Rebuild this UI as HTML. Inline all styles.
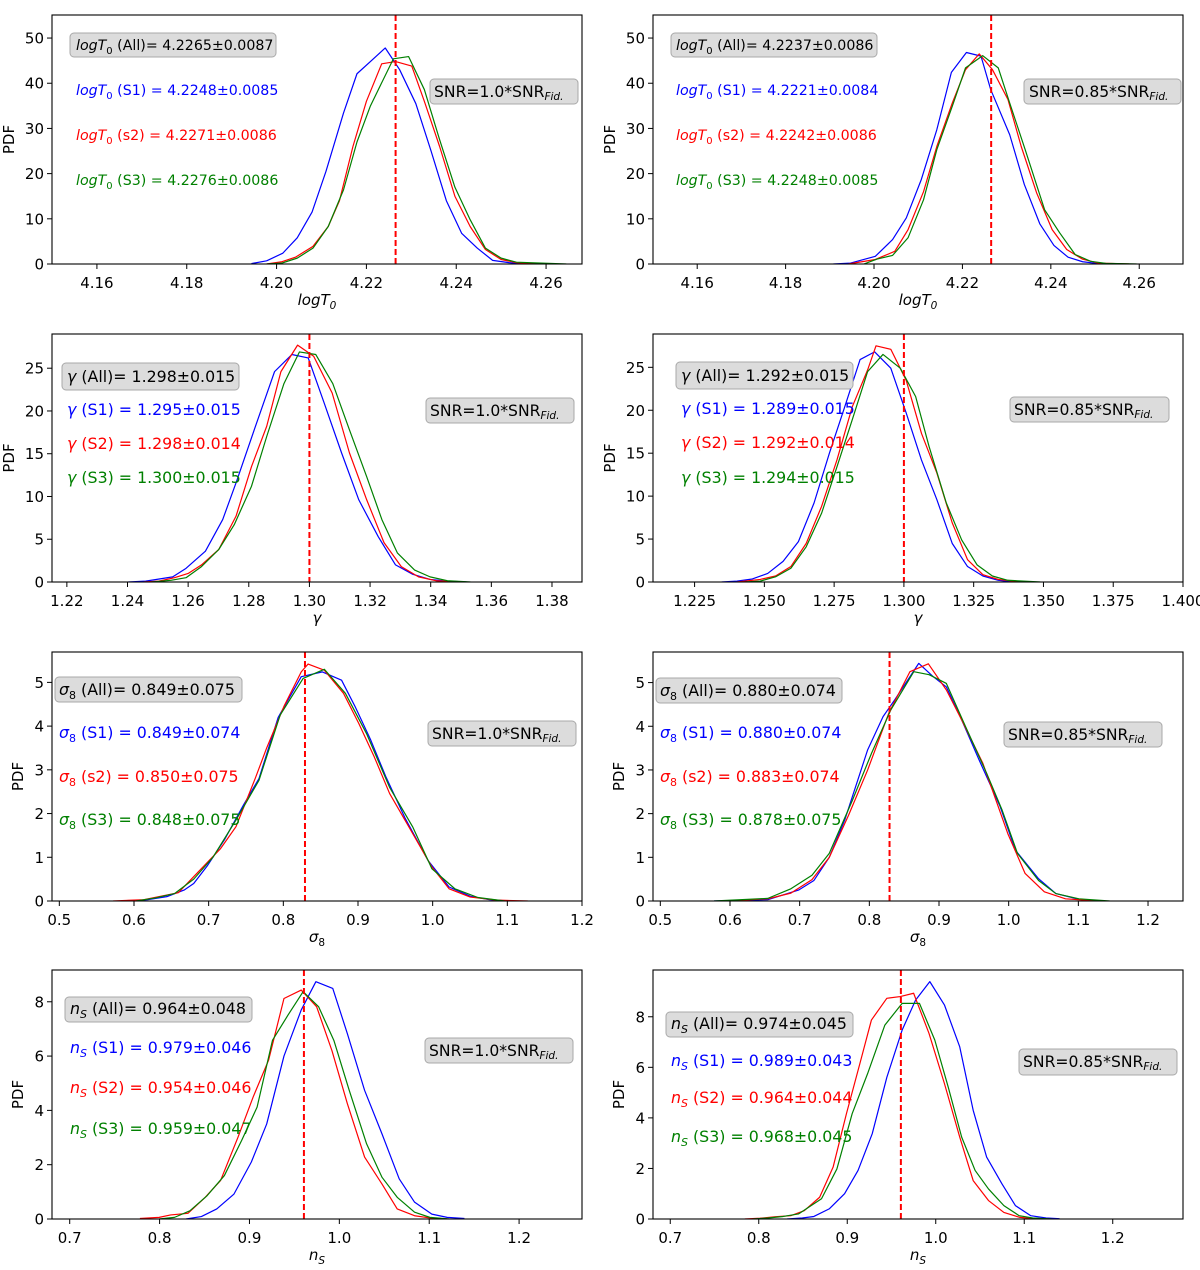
<!DOCTYPE html>
<html><head><meta charset="utf-8">
<style>
html,body{margin:0;padding:0;background:#fff;}
svg{display:block;font-family:"DejaVu Sans","Liberation Sans",sans-serif;}
</style></head>
<body>
<svg id="fig" width="1200" height="1270" viewBox="0 0 1200 1270" xmlns="http://www.w3.org/2000/svg">
<rect x="0" y="0" width="1200" height="1270" fill="#fff"/>
<g id="marks"></g>
<g id="annots">
<!-- Panel 1 -->
<g font-size="14.2">
<rect x="70" y="33" width="206" height="24" rx="4" fill="#dcdcdc" stroke="#a8a8a8"/>
<text x="76" y="50" fill="#000"><tspan font-style="italic">logT</tspan><tspan font-size="10" dy="4">0</tspan><tspan dy="-4"> (All)= 4.2265±0.0087</tspan></text>
<text x="76" y="95" fill="#0000ff"><tspan font-style="italic">logT</tspan><tspan font-size="10" dy="4">0</tspan><tspan dy="-4"> (S1) = 4.2248±0.0085</tspan></text>
<text x="76" y="140" fill="#ff0000"><tspan font-style="italic">logT</tspan><tspan font-size="10" dy="4">0</tspan><tspan dy="-4"> (s2) = 4.2271±0.0086</tspan></text>
<text x="76" y="185" fill="#008000"><tspan font-style="italic">logT</tspan><tspan font-size="10" dy="4">0</tspan><tspan dy="-4"> (S3) = 4.2276±0.0086</tspan></text>
<rect x="430" y="79" width="148" height="25" rx="4" fill="#dcdcdc" stroke="#a8a8a8"/>
<text x="434" y="97" font-size="15.6">SNR=1.0*SNR<tspan font-size="10.5" font-style="italic" dy="3">Fid.</tspan></text>
</g>
<!-- Panel 2 -->
<g font-size="14.2">
<rect x="671" y="33" width="206" height="24" rx="4" fill="#dcdcdc" stroke="#a8a8a8"/>
<text x="676" y="50" fill="#000"><tspan font-style="italic">logT</tspan><tspan font-size="10" dy="4">0</tspan><tspan dy="-4"> (All)= 4.2237±0.0086</tspan></text>
<text x="676" y="95" fill="#0000ff"><tspan font-style="italic">logT</tspan><tspan font-size="10" dy="4">0</tspan><tspan dy="-4"> (S1) = 4.2221±0.0084</tspan></text>
<text x="676" y="140" fill="#ff0000"><tspan font-style="italic">logT</tspan><tspan font-size="10" dy="4">0</tspan><tspan dy="-4"> (s2) = 4.2242±0.0086</tspan></text>
<text x="676" y="185" fill="#008000"><tspan font-style="italic">logT</tspan><tspan font-size="10" dy="4">0</tspan><tspan dy="-4"> (S3) = 4.2248±0.0085</tspan></text>
<rect x="1024" y="79" width="157" height="25" rx="4" fill="#dcdcdc" stroke="#a8a8a8"/>
<text x="1029" y="97" font-size="15.6">SNR=0.85*SNR<tspan font-size="10.5" font-style="italic" dy="3">Fid.</tspan></text>
</g>
<!-- Panel 3 -->
<g font-size="15.8">
<rect x="62" y="363" width="177" height="27" rx="4" fill="#dcdcdc" stroke="#a8a8a8"/>
<text x="67" y="382" fill="#000"><tspan font-style="italic">γ</tspan> (All)= 1.298±0.015</text>
<text x="67" y="415" fill="#0000ff"><tspan font-style="italic">γ</tspan> (S1) = 1.295±0.015</text>
<text x="67" y="449" fill="#ff0000"><tspan font-style="italic">γ</tspan> (S2) = 1.298±0.014</text>
<text x="67" y="483" fill="#008000"><tspan font-style="italic">γ</tspan> (S3) = 1.300±0.015</text>
<rect x="426" y="398" width="148" height="25" rx="4" fill="#dcdcdc" stroke="#a8a8a8"/>
<text x="430" y="416" font-size="15.6">SNR=1.0*SNR<tspan font-size="10.5" font-style="italic" dy="3">Fid.</tspan></text>
</g>
<!-- Panel 4 -->
<g font-size="15.8">
<rect x="676" y="362" width="177" height="27" rx="4" fill="#dcdcdc" stroke="#a8a8a8"/>
<text x="681" y="381" fill="#000"><tspan font-style="italic">γ</tspan> (All)= 1.292±0.015</text>
<text x="681" y="414" fill="#0000ff"><tspan font-style="italic">γ</tspan> (S1) = 1.289±0.015</text>
<text x="681" y="448" fill="#ff0000"><tspan font-style="italic">γ</tspan> (S2) = 1.292±0.014</text>
<text x="681" y="483" fill="#008000"><tspan font-style="italic">γ</tspan> (S3) = 1.294±0.015</text>
<rect x="1010" y="397" width="159" height="25" rx="4" fill="#dcdcdc" stroke="#a8a8a8"/>
<text x="1014" y="415" font-size="15.6">SNR=0.85*SNR<tspan font-size="10.5" font-style="italic" dy="3">Fid.</tspan></text>
</g>
<!-- Panel 5 -->
<g font-size="15.8">
<rect x="55" y="677" width="187" height="25" rx="4" fill="#dcdcdc" stroke="#a8a8a8"/>
<text x="59" y="695" fill="#000"><tspan font-style="italic">σ</tspan><tspan font-size="11" dy="4">8</tspan><tspan dy="-4"> (All)= 0.849±0.075</tspan></text>
<text x="59" y="738" fill="#0000ff"><tspan font-style="italic">σ</tspan><tspan font-size="11" dy="4">8</tspan><tspan dy="-4"> (S1) = 0.849±0.074</tspan></text>
<text x="59" y="782" fill="#ff0000"><tspan font-style="italic">σ</tspan><tspan font-size="11" dy="4">8</tspan><tspan dy="-4"> (s2) = 0.850±0.075</tspan></text>
<text x="59" y="825" fill="#008000"><tspan font-style="italic">σ</tspan><tspan font-size="11" dy="4">8</tspan><tspan dy="-4"> (S3) = 0.848±0.075</tspan></text>
<rect x="428" y="721" width="148" height="25" rx="4" fill="#dcdcdc" stroke="#a8a8a8"/>
<text x="432" y="739" font-size="15.6">SNR=1.0*SNR<tspan font-size="10.5" font-style="italic" dy="3">Fid.</tspan></text>
</g>
<!-- Panel 6 -->
<g font-size="15.8">
<rect x="656" y="678" width="186" height="25" rx="4" fill="#dcdcdc" stroke="#a8a8a8"/>
<text x="660" y="696" fill="#000"><tspan font-style="italic">σ</tspan><tspan font-size="11" dy="4">8</tspan><tspan dy="-4"> (All)= 0.880±0.074</tspan></text>
<text x="660" y="738" fill="#0000ff"><tspan font-style="italic">σ</tspan><tspan font-size="11" dy="4">8</tspan><tspan dy="-4"> (S1) = 0.880±0.074</tspan></text>
<text x="660" y="782" fill="#ff0000"><tspan font-style="italic">σ</tspan><tspan font-size="11" dy="4">8</tspan><tspan dy="-4"> (s2) = 0.883±0.074</tspan></text>
<text x="660" y="825" fill="#008000"><tspan font-style="italic">σ</tspan><tspan font-size="11" dy="4">8</tspan><tspan dy="-4"> (S3) = 0.878±0.075</tspan></text>
<rect x="1004" y="722" width="158" height="25" rx="4" fill="#dcdcdc" stroke="#a8a8a8"/>
<text x="1008" y="740" font-size="15.6">SNR=0.85*SNR<tspan font-size="10.5" font-style="italic" dy="3">Fid.</tspan></text>
</g>
<!-- Panel 7 -->
<g font-size="15.8">
<rect x="65" y="997" width="187" height="25" rx="4" fill="#dcdcdc" stroke="#a8a8a8"/>
<text x="70" y="1014" fill="#000"><tspan font-style="italic">n</tspan><tspan font-size="11" font-style="italic" dy="4">S</tspan><tspan dy="-4"> (All)= 0.964±0.048</tspan></text>
<text x="70" y="1053" fill="#0000ff"><tspan font-style="italic">n</tspan><tspan font-size="11" font-style="italic" dy="4">S</tspan><tspan dy="-4"> (S1) = 0.979±0.046</tspan></text>
<text x="70" y="1093" fill="#ff0000"><tspan font-style="italic">n</tspan><tspan font-size="11" font-style="italic" dy="4">S</tspan><tspan dy="-4"> (S2) = 0.954±0.046</tspan></text>
<text x="70" y="1134" fill="#008000"><tspan font-style="italic">n</tspan><tspan font-size="11" font-style="italic" dy="4">S</tspan><tspan dy="-4"> (S3) = 0.959±0.047</tspan></text>
<rect x="425" y="1038" width="148" height="25" rx="4" fill="#dcdcdc" stroke="#a8a8a8"/>
<text x="429" y="1056" font-size="15.6">SNR=1.0*SNR<tspan font-size="10.5" font-style="italic" dy="3">Fid.</tspan></text>
</g>
<!-- Panel 8 -->
<g font-size="15.8">
<rect x="666" y="1012" width="187" height="25" rx="4" fill="#dcdcdc" stroke="#a8a8a8"/>
<text x="671" y="1029" fill="#000"><tspan font-style="italic">n</tspan><tspan font-size="11" font-style="italic" dy="4">S</tspan><tspan dy="-4"> (All)= 0.974±0.045</tspan></text>
<text x="671" y="1066" fill="#0000ff"><tspan font-style="italic">n</tspan><tspan font-size="11" font-style="italic" dy="4">S</tspan><tspan dy="-4"> (S1) = 0.989±0.043</tspan></text>
<text x="671" y="1103" fill="#ff0000"><tspan font-style="italic">n</tspan><tspan font-size="11" font-style="italic" dy="4">S</tspan><tspan dy="-4"> (S2) = 0.964±0.044</tspan></text>
<text x="671" y="1142" fill="#008000"><tspan font-style="italic">n</tspan><tspan font-size="11" font-style="italic" dy="4">S</tspan><tspan dy="-4"> (S3) = 0.968±0.045</tspan></text>
<rect x="1019" y="1049" width="158" height="26" rx="4" fill="#dcdcdc" stroke="#a8a8a8"/>
<text x="1023" y="1067" font-size="15.6">SNR=0.85*SNR<tspan font-size="10.5" font-style="italic" dy="3">Fid.</tspan></text>
</g>
</g>
</svg>
<script>
// ---------- DATA ----------
// Panel 1: logT0, SNR=1.0
const p1b_x=[4.1944,4.1978,4.2014,4.2046,4.2079,4.2110,4.2149,4.2179,4.2211,4.2242,4.2274,4.2310,4.2344,4.2378,4.2412,4.2447,4.2481,4.2517,4.2551];
const p1b_y=[0.1,0.7,2.4,5.8,11.5,20.5,33.4,42.1,45,47.8,43,35.5,25,14,6.8,3.5,0.8,0.3,0];
const p1r_x=[4.1978,4.2012,4.2042,4.2081,4.2115,4.2140,4.2170,4.2200,4.2234,4.2265,4.2301,4.2329,4.2363,4.2397,4.2431,4.2465,4.2500,4.2534,4.2594];
const p1r_y=[0,0.5,1.5,3.9,8.3,14,26,36,44.3,44.8,43.8,36,26,15,8.3,3.2,1,0.3,0];
const p1g_x=[4.1978,4.2012,4.2046,4.2081,4.2115,4.2149,4.2179,4.2209,4.2260,4.2294,4.2329,4.2363,4.2397,4.2431,4.2465,4.2500,4.2534,4.2645];
const p1g_y=[0,0.2,1.3,3.5,8.3,16.4,27,35,45.4,45.9,38.6,27.5,17,9.8,3.5,1.3,0.4,0];
// Panel 2: logT0, SNR=0.85
const p2b_x=[4.1908,4.1947,4.2003,4.2042,4.2073,4.2107,4.2142,4.2175,4.2209,4.2242,4.2264,4.2307,4.2340,4.2375,4.2407,4.2439,4.2472,4.2507,4.2542];
const p2b_y=[0,0.2,1.7,5.4,10.2,18.7,29.7,42.4,46.8,46,38.6,28.6,17.6,8.9,4.1,1.5,0.5,0.1,0];
const p2r_x=[4.1942,4.2003,4.2047,4.2077,4.2112,4.2142,4.2177,4.2207,4.2238,4.2268,4.2303,4.2333,4.2368,4.2403,4.2436,4.2471,4.2507,4.2577];
const p2r_y=[0,1,2.8,7.6,16,26,35.6,43,46.5,43,36.4,26,15.7,7.6,3.2,1.1,0.2,0];
const p2g_x=[4.1977,4.2007,4.2042,4.2077,4.2112,4.2142,4.2177,4.2207,4.2246,4.2281,4.2307,4.2342,4.2386,4.2420,4.2455,4.2490,4.2524,4.2594];
const p2g_y=[0,1.1,1.9,5.8,14.2,25.3,34.9,43.4,46.1,43.4,35.6,25.3,12,6.9,2.1,0.6,0.15,0];
// Panel 3: gamma, SNR=1.0
const p3b_x=[1.2403,1.2460,1.2549,1.2593,1.2657,1.2714,1.2758,1.2820,1.2885,1.2942,1.2996,1.3049,1.3106,1.3163,1.3227,1.3284,1.3341,1.3398,1.3455,1.3518];
const p3b_y=[0,0.1,0.6,1.6,3.6,7.3,11.6,18,24.6,26.6,26.2,20.9,15.1,9.6,5.3,2,0.9,0.3,0.1,0];
const p3r_x=[1.2454,1.2504,1.2555,1.2600,1.2644,1.2701,1.2758,1.2809,1.2859,1.2906,1.2961,1.3014,1.3075,1.3132,1.3189,1.3246,1.3303,1.3360,1.3417,1.3493];
const p3r_y=[0,0.1,0.5,1,2,3.8,7.7,13.5,18.2,24.6,27.7,26.4,22.1,15.1,9.6,4.6,1.8,0.6,0.15,0];
const p3g_x=[1.2479,1.2543,1.2593,1.2644,1.2701,1.2752,1.2809,1.2859,1.2916,1.2967,1.3021,1.3077,1.3132,1.3189,1.3239,1.3290,1.3347,1.3398,1.3455,1.3531];
const p3g_y=[0,0.2,0.5,1.8,3.8,6.7,11.2,17,23.2,26.9,26.6,23.2,17.8,12.3,7.3,3.4,1.4,0.6,0.15,0];
// Panel 4: gamma, SNR=0.85
const p4b_x=[1.2347,1.2402,1.2457,1.2512,1.2567,1.2622,1.2678,1.2733,1.2788,1.2843,1.2895,1.2953,1.3008,1.3063,1.3118,1.3173,1.3228,1.3283,1.3338,1.3393];
const p4b_y=[0,0.1,0.35,1,2.4,4.7,9.2,15,20.4,25.9,26.8,24.9,19.7,14.2,9.6,4.5,1.8,0.7,0.2,0];
const p4r_x=[1.2402,1.2485,1.2540,1.2595,1.2650,1.2705,1.2760,1.2815,1.2870,1.2900,1.2953,1.3008,1.3063,1.3118,1.3173,1.3228,1.3283,1.3338,1.3421];
const p4r_y=[0,0.3,0.7,1.8,4.5,8.8,14.2,20.4,24.7,27.5,27.1,23.5,17.3,12.7,6.9,2.6,0.85,0.3,0];
const p4g_x=[1.2430,1.2485,1.2540,1.2595,1.2650,1.2705,1.2760,1.2815,1.2870,1.2925,1.2987,1.3042,1.3090,1.3152,1.3207,1.3262,1.3317,1.3372,1.3489];
const p4g_y=[0,0.1,0.6,1.6,4.1,8,13.4,18.9,24.5,26.5,24.9,21.6,15.8,9.2,4.9,2,0.7,0.2,0];
// Panel 5: sigma8, SNR=1.0
const p5b_x=[0.5925,0.6183,0.6440,0.6671,0.6800,0.6980,0.7211,0.7468,0.7674,0.7931,0.8240,0.8523,0.8780,0.8960,0.9166,0.9371,0.9629,0.9937,1.0220,1.0503,1.0760,1.1017];
const p5b_y=[0,0.03,0.1,0.25,0.4,0.8,1.4,2.2,2.8,4.2,5.13,5.24,5.05,4.45,3.7,2.85,1.9,0.93,0.32,0.11,0.03,0];
const p5r_x=[0.5720,0.6131,0.6337,0.6594,0.7160,0.7366,0.7623,0.7777,0.8008,0.8240,0.8332,0.8548,0.8806,0.9011,0.9217,0.9423,0.9680,0.9989,1.0220,1.0503,1.0863,1.1274];
const p5r_y=[0,0.03,0.1,0.19,1.2,1.7,2.8,3.5,4.45,5.24,5.42,5.28,4.75,4.06,3.3,2.46,1.7,0.78,0.28,0.09,0.02,0];
const p5g_x=[0.6028,0.6285,0.6543,0.6800,0.7057,0.7366,0.7674,0.7957,0.8265,0.8549,0.8831,0.9114,0.9423,0.9731,0.9989,1.0297,1.0606,1.0966];
const p5g_y=[0,0.07,0.17,0.5,1,1.85,2.76,4.25,5.09,5.3,4.75,3.83,2.6,1.7,0.74,0.28,0.08,0];
// Panel 6: sigma8, SNR=0.85
const p6b_x=[0.5771,0.6543,0.6984,0.7205,0.7425,0.7646,0.7976,0.8197,0.8362,0.8709,0.8913,0.9106,0.9327,0.9575,0.9878,1.0098,1.0429,1.0677,1.1008,1.1283];
const p6b_y=[0,0.03,0.25,0.47,1.0,1.85,3.46,4.22,4.6,5.44,5.14,4.9,4.14,3.23,2.16,1.16,0.51,0.17,0.04,0];
const p6r_x=[0.5937,0.6543,0.6874,0.7177,0.7425,0.7701,0.7976,0.8279,0.8583,0.8847,0.9106,0.9327,0.9630,0.9988,1.0236,1.0512,1.0815,1.1283];
const p6r_y=[0,0.05,0.18,0.49,1.0,1.96,3.0,4.3,5.25,5.43,4.83,4.14,3.15,1.54,0.63,0.21,0.05,0];
const p6g_x=[0.5771,0.6543,0.6874,0.7177,0.7425,0.7756,0.8031,0.8307,0.8638,0.8858,0.9106,0.9382,0.9685,0.9906,1.0126,1.0429,1.0677,1.1008,1.1449];
const p6g_y=[0,0.06,0.28,0.59,1.09,2.3,3.38,4.37,5.25,5.18,4.98,3.99,2.92,2.08,1.09,0.47,0.17,0.05,0];
// Panel 7: nS, SNR=1.0
const p7b_x=[0.8294,0.8465,0.8636,0.8828,0.9021,0.9192,0.9384,0.9576,0.9739,0.9927,1.0089,1.0281,1.0474,1.0666,1.0837,1.1029,1.1200,1.1392];
const p7b_y=[0,0.09,0.37,0.92,2.1,3.5,6,7.7,8.74,8.49,6.83,4.74,3.14,1.48,0.62,0.18,0.06,0.02];
const p7r_x=[0.7781,0.7995,0.8123,0.8316,0.8508,0.8679,0.8871,0.9042,0.9213,0.9384,0.9576,0.9747,0.9918,1.0089,1.0281,1.0474,1.0644,1.0837,1.1008,1.1200];
const p7r_y=[0.02,0.06,0.15,0.21,0.8,1.42,3.0,4.5,5.85,8.12,8.43,7.82,6.2,4.25,2.28,1.29,0.37,0.12,0.04,0];
const p7g_x=[0.7995,0.8166,0.8337,0.8529,0.8721,0.8914,0.9085,0.9256,0.9427,0.9597,0.9769,0.9939,1.0110,1.0303,1.0474,1.0644,1.0837,1.1008,1.1221];
const p7g_y=[0,0.06,0.3,0.86,1.6,2.9,4.12,6.58,7.5,8.37,7.82,6.58,4.74,2.77,1.54,0.8,0.25,0.06,0];
// Panel 8: nS, SNR=0.85
const p8b_x=[0.8319,0.8492,0.8623,0.8796,0.8970,0.9122,0.9282,0.9447,0.9620,0.9772,0.9933,1.0098,1.0271,1.0423,1.0575,1.0748,1.0900,1.1074,1.1247,1.1399];
const p8b_y=[0,0.04,0.1,0.4,1,1.92,3.37,5.6,7.47,8.66,9.39,8.47,6.81,4.3,2.45,1.39,0.53,0.13,0.04,0.01];
const p8r_x=[0.7842,0.8015,0.8189,0.8362,0.8514,0.8688,0.8840,0.8991,0.9143,0.9273,0.9447,0.9599,0.9750,0.9924,1.0098,1.0271,1.0423,1.0596,1.0770,1.0943,1.1139];
const p8r_y=[0,0.03,0.09,0.13,0.33,0.86,2.05,4.17,6.15,7.87,8.73,8.8,8.93,7.34,5.36,3.24,1.52,0.73,0.26,0.07,0];
const p8g_x=[0.7929,0.8102,0.8276,0.8449,0.8536,0.8709,0.8883,0.9056,0.9230,0.9425,0.9620,0.9816,0.9989,1.0141,1.0293,1.0445,1.0596,1.0770,1.0943,1.1095,1.1312];
const p8g_y=[0,0.04,0.1,0.2,0.4,0.8,1.98,4.17,5.75,7.67,8.53,8.53,7.08,5.22,3.24,1.92,1.19,0.53,0.13,0.04,0];
// Fiducial values (dashed lines)
const fiducials=[4.2265,4.2265,1.30,1.30,0.829,0.829,0.9606,0.9606];
// Tick labels
const xt_logT=["4.16","4.18","4.20","4.22","4.24","4.26"];
const yt_logT=["0","10","20","30","40","50"];
const xt_gamL=["1.22","1.24","1.26","1.28","1.30","1.32","1.34","1.36","1.38"];
const xt_gamR=["1.225","1.250","1.275","1.300","1.325","1.350","1.375","1.400"];
const yt_gam=["0","5","10","15","20","25"];
const xt_sig=["0.5","0.6","0.7","0.8","0.9","1.0","1.1","1.2"];
const yt_sig=["0","1","2","3","4","5"];
const xt_ns=["0.7","0.8","0.9","1.0","1.1","1.2"];
const yt_ns=["0","2","4","6","8"];

// ---------- LAYOUT ----------
const NS="http://www.w3.org/2000/svg";
const marks=document.getElementById('marks');
const COLS=[[52,582],[653,1183]];
const ROWS=[[15,264],[334,582],[652,901],[970,1219]];
const panels=[
 {c:0,r:0,xr:[4.15,4.268],yr:[0,55.1],xt:xt_logT,yt:yt_logT,xl:'logT',sub:'0',name:'logT0-snr1',s:[[p1b_x,p1b_y],[p1r_x,p1r_y],[p1g_x,p1g_y]],pdf:8},
 {c:1,r:0,xr:[4.15,4.2699],yr:[0,55.1],xt:xt_logT,yt:yt_logT,xl:'logT',sub:'0',name:'logT0-snr085',s:[[p2b_x,p2b_y],[p2r_x,p2r_y],[p2g_x,p2g_y]],pdf:8},
 {c:0,r:1,xr:[1.2151,1.3899],yr:[0,29.0],xt:xt_gamL,yt:yt_gam,xl:'γ',sub:'',name:'gamma-snr1',s:[[p3b_x,p3b_y],[p3r_x,p3r_y],[p3g_x,p3g_y]],pdf:8},
 {c:1,r:1,xr:[1.2101,1.4],yr:[0,28.88],xt:xt_gamR,yt:yt_gam,xl:'γ',sub:'',name:'gamma-snr085',s:[[p4b_x,p4b_y],[p4r_x,p4r_y],[p4g_x,p4g_y]],pdf:8},
 {c:0,r:2,xr:[0.4902,1.2],yr:[0,5.695],xt:xt_sig,yt:yt_sig,xl:'σ',sub:'8',subUp:true,name:'sigma8-snr1',s:[[p5b_x,p5b_y],[p5r_x,p5r_y],[p5g_x,p5g_y]],pdf:17},
 {c:1,r:2,xr:[0.4895,1.2502],yr:[0,5.70],xt:xt_sig,yt:yt_sig,xl:'σ',sub:'8',subUp:true,name:'sigma8-snr085',s:[[p6b_x,p6b_y],[p6r_x,p6r_y],[p6g_x,p6g_y]],pdf:17},
 {c:0,r:3,xr:[0.6803,1.270],yr:[0,9.17],xt:xt_ns,yt:yt_ns,xl:'n',sub:'S',name:'ns-snr1',s:[[p7b_x,p7b_y],[p7r_x,p7r_y],[p7g_x,p7g_y]],pdf:17},
 {c:1,r:3,xr:[0.6805,1.2794],yr:[0,9.85],xt:xt_ns,yt:yt_ns,xl:'n',sub:'S',name:'ns-snr085',s:[[p8b_x,p8b_y],[p8r_x,p8r_y],[p8g_x,p8g_y]],pdf:17}
];
const SCOL=['#0000ff','#ff0000','#008000'];
const SNAME=['s1','s2','s3'];

function mk(tag,attrs,parent){const e=document.createElementNS(NS,tag);for(const k in attrs)e.setAttribute(k,attrs[k]);(parent||marks).appendChild(e);return e;}

panels.forEach((p,i)=>{
  const x0=COLS[p.c][0],x1=COLS[p.c][1],y0=ROWS[p.r][0],y1=ROWS[p.r][1];
  const sx=v=>x0+(v-p.xr[0])/(p.xr[1]-p.xr[0])*(x1-x0);
  const sy=v=>y1-(v-p.yr[0])/(p.yr[1]-p.yr[0])*(y1-y0);
  const g=mk('g',{});
  
  
  const cp=mk('clipPath',{id:'clip'+i},g);
  mk('rect',{x:x0,y:y0,width:x1-x0,height:y1-y0},cp);
  p.s.forEach((ser,k)=>{
    const pts=ser[0].map((xv,j)=>sx(xv).toFixed(2)+','+sy(ser[1][j]).toFixed(2)).join(' ');
    const pl=mk('polyline',{points:pts,fill:'none',stroke:SCOL[k],'stroke-width':1.2,'stroke-linejoin':'round','clip-path':'url(#clip'+i+')'},g);
    
    
  });
  const fx=sx(fiducials[i]);
  const fl=mk('line',{x1:fx,x2:fx,y1:y0,y2:y1,stroke:'#ff0000','stroke-width':2,'stroke-dasharray':'6,3'},g);
  
  
  const fr=mk('rect',{x:x0,y:y0,width:x1-x0,height:y1-y0,fill:'none',stroke:'#000','stroke-width':1.1},g);
  
  
  p.xt.forEach(t=>{
    const v=parseFloat(t);const x=sx(v);
    const tl=mk('line',{x1:x,x2:x,y1:y1,y2:y1+5,stroke:'#000','stroke-width':1},g);
    
    
    const tx=mk('text',{x:x,y:y1+24,'text-anchor':'middle','font-size':15,fill:'#000'},g);
    
    
    tx.textContent=t;
  });
  p.yt.forEach(t=>{
    const v=parseFloat(t);const y=sy(v);
    const tl=mk('line',{x1:x0-5,x2:x0,y1:y,y2:y,stroke:'#000','stroke-width':1},g);
    
    
    const tx=mk('text',{x:x0-8,y:y+5.5,'text-anchor':'end','font-size':15,fill:'#000'},g);
    
    
    tx.textContent=t;
  });
  const px=x0-52+p.pdf+6, pyc=(y0+y1)/2;
  const yl=mk('text',{x:px,y:pyc,'text-anchor':'middle','font-size':15,transform:'rotate(-90 '+px+' '+pyc+')'},g);
  
  
  yl.textContent='PDF';
  const xl=mk('text',{x:(x0+x1)/2,y:y1+41,'text-anchor':'middle','font-size':15},g);
  
  
  const t1=mk('tspan',{'font-style':'italic'},xl);
  t1.textContent=p.xl;
  if(p.sub){
    const t2=mk('tspan',{'font-size':10.5,dy:4,'font-style':p.subUp?'normal':'italic'},xl);
    t2.textContent=p.sub;
  }
});
</script>
</body></html>
